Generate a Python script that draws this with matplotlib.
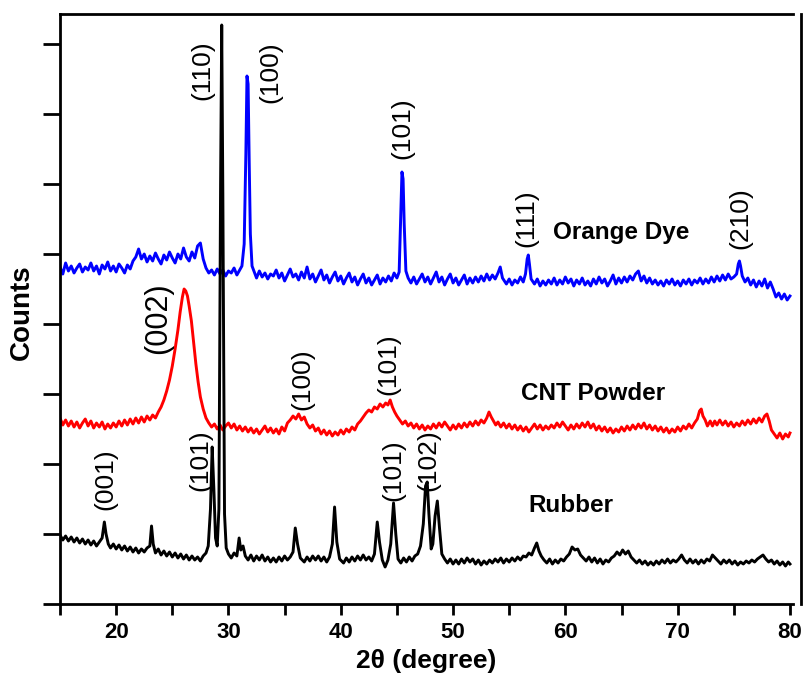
import numpy as np
import matplotlib
matplotlib.use("Agg")
import matplotlib.pyplot as plt

plt.rcParams['font.family'] = ['Liberation Sans', 'DejaVu Sans']

# XRD traces: (2theta, counts), arbitrary count units
dye_points = [
    (15.0, 337), (15.25, 330), (15.5, 341), (15.75, 333), (16.0, 338), (16.25, 331), (16.5, 336), (16.75, 340),
    (17.0, 332), (17.25, 337), (17.5, 334), (17.75, 341), (18.0, 333), (18.25, 338), (18.5, 330), (18.75, 339),
    (19.0, 335), (19.25, 342), (19.5, 333), (19.75, 338), (20.0, 332), (20.25, 340), (20.5, 336), (20.75, 331),
    (21.0, 339), (21.25, 335), (21.5, 343), (21.75, 347), (22.0, 355), (22.25, 345), (22.5, 350), (22.75, 342),
    (23.0, 348), (23.25, 343), (23.5, 351), (23.75, 345), (24.0, 340), (24.25, 349), (24.5, 344), (24.75, 352),
    (25.0, 346), (25.25, 341), (25.5, 350), (25.75, 345), (26.0, 356), (26.25, 347), (26.5, 343), (26.75, 352),
    (27.0, 346), (27.25, 358), (27.5, 361), (27.75, 345), (28.0, 336), (28.25, 331), (28.5, 334), (28.75, 329),
    (29.0, 335), (29.25, 330), (29.5, 334), (29.75, 328), (30.0, 333), (30.25, 331), (30.5, 336), (30.75, 329),
    (31.0, 334), (31.2, 338), (31.4, 360), (31.55, 450), (31.65, 528), (31.75, 520), (31.85, 440), (31.95, 370),
    (32.1, 338), (32.3, 332), (32.5, 326), (32.75, 333), (33.0, 327), (33.25, 331), (33.5, 325), (33.75, 330),
    (34.0, 328), (34.25, 334), (34.5, 326), (34.75, 331), (35.0, 323), (35.25, 329), (35.5, 335), (35.75, 327),
    (36.0, 330), (36.25, 324), (36.5, 332), (36.75, 326), (37.0, 337), (37.25, 325), (37.5, 330), (37.75, 322),
    (38.0, 328), (38.25, 334), (38.5, 324), (38.75, 329), (39.0, 321), (39.25, 327), (39.5, 332), (39.75, 323),
    (40.0, 328), (40.25, 320), (40.5, 326), (40.75, 331), (41.0, 322), (41.25, 327), (41.5, 319), (41.75, 325),
    (42.0, 330), (42.25, 321), (42.5, 326), (42.75, 319), (43.0, 324), (43.25, 329), (43.5, 320), (43.75, 326),
    (44.0, 322), (44.25, 328), (44.5, 323), (44.75, 331), (45.0, 326), (45.2, 332), (45.35, 390), (45.45, 432),
    (45.55, 425), (45.65, 380), (45.8, 333), (46.0, 326), (46.25, 321), (46.5, 327), (46.75, 320), (47.0, 325),
    (47.25, 330), (47.5, 322), (47.75, 327), (48.0, 320), (48.25, 326), (48.5, 332), (48.75, 322), (49.0, 327),
    (49.25, 319), (49.5, 325), (49.75, 330), (50.0, 321), (50.25, 326), (50.5, 319), (50.75, 324), (51.0, 329),
    (51.25, 320), (51.5, 326), (51.75, 321), (52.0, 327), (52.25, 322), (52.5, 328), (52.75, 323), (53.0, 330),
    (53.25, 324), (53.5, 329), (53.75, 325), (54.0, 331), (54.2, 337), (54.4, 326), (54.75, 320), (55.0, 325),
    (55.25, 319), (55.5, 324), (55.75, 321), (56.0, 327), (56.25, 322), (56.45, 330), (56.6, 345), (56.7, 349),
    (56.8, 340), (56.95, 325), (57.25, 320), (57.5, 325), (57.75, 318), (58.0, 323), (58.25, 319), (58.5, 324),
    (58.75, 320), (59.0, 326), (59.25, 319), (59.5, 324), (59.75, 320), (60.0, 327), (60.25, 321), (60.5, 325),
    (60.75, 318), (61.0, 324), (61.25, 320), (61.5, 326), (61.75, 319), (62.0, 323), (62.25, 318), (62.5, 325),
    (62.75, 320), (63.0, 327), (63.25, 321), (63.5, 325), (63.75, 318), (64.0, 323), (64.25, 329), (64.5, 320),
    (64.75, 326), (65.0, 321), (65.25, 327), (65.5, 322), (65.75, 328), (66.0, 324), (66.25, 330), (66.5, 333),
    (66.75, 323), (67.0, 328), (67.25, 321), (67.5, 326), (67.75, 320), (68.0, 324), (68.25, 319), (68.5, 323),
    (68.75, 318), (69.0, 324), (69.25, 320), (69.5, 325), (69.75, 319), (70.0, 323), (70.25, 318), (70.5, 324),
    (70.75, 320), (71.0, 325), (71.25, 319), (71.5, 324), (71.75, 321), (72.0, 326), (72.25, 320), (72.5, 325),
    (72.75, 321), (73.0, 327), (73.25, 322), (73.5, 328), (73.75, 323), (74.0, 329), (74.25, 324), (74.5, 330),
    (74.75, 325), (75.0, 327), (75.25, 330), (75.4, 340), (75.5, 343), (75.6, 338), (75.75, 328), (76.0, 322),
    (76.25, 326), (76.5, 319), (76.75, 324), (77.0, 317), (77.25, 323), (77.5, 318), (77.75, 325), (78.0, 316),
    (78.25, 322), (78.5, 315), (78.75, 307), (79.0, 311), (79.25, 305), (79.5, 310), (79.75, 304), (80.0, 308),
]

cnt_points = [
    (15.0, 186), (15.25, 179), (15.5, 184), (15.75, 178), (16.0, 183), (16.25, 177), (16.5, 182), (16.75, 176),
    (17.0, 181), (17.25, 185), (17.5, 178), (17.75, 183), (18.0, 176), (18.25, 181), (18.5, 177), (18.75, 182),
    (19.0, 175), (19.25, 180), (19.5, 176), (19.75, 181), (20.0, 177), (20.25, 183), (20.5, 178), (20.75, 184),
    (21.0, 179), (21.25, 185), (21.5, 180), (21.75, 186), (22.0, 181), (22.25, 187), (22.5, 182), (22.75, 188),
    (23.0, 184), (23.25, 189), (23.5, 186), (23.75, 192), (24.0, 197), (24.25, 204), (24.5, 213), (24.75, 224),
    (25.0, 238), (25.25, 255), (25.5, 274), (25.7, 292), (25.9, 307), (26.05, 315), (26.2, 313), (26.35, 308),
    (26.5, 298), (26.7, 283), (26.9, 262), (27.1, 240), (27.3, 222), (27.5, 207), (27.75, 195), (28.0, 186),
    (28.25, 181), (28.5, 177), (28.75, 180), (29.0, 175), (29.25, 179), (29.5, 174), (29.75, 178), (30.0, 181),
    (30.25, 176), (30.5, 180), (30.75, 174), (31.0, 178), (31.25, 173), (31.5, 177), (31.75, 172), (32.0, 176),
    (32.25, 171), (32.5, 175), (32.75, 170), (33.0, 174), (33.25, 178), (33.5, 172), (33.75, 176), (34.0, 171),
    (34.25, 175), (34.5, 170), (34.75, 177), (35.0, 173), (35.25, 181), (35.5, 184), (35.75, 188), (36.0, 185),
    (36.25, 190), (36.5, 184), (36.75, 187), (37.0, 180), (37.25, 176), (37.5, 179), (37.75, 173), (38.0, 176),
    (38.25, 170), (38.5, 174), (38.75, 169), (39.0, 173), (39.25, 168), (39.5, 172), (39.75, 169), (40.0, 174),
    (40.25, 170), (40.5, 175), (40.75, 172), (41.0, 177), (41.25, 174), (41.5, 180), (41.75, 183), (42.0, 187),
    (42.25, 191), (42.5, 194), (42.75, 192), (43.0, 197), (43.25, 195), (43.5, 200), (43.75, 197), (44.0, 201),
    (44.2, 199), (44.4, 204), (44.6, 197), (44.8, 192), (45.0, 188), (45.25, 184), (45.5, 180), (45.75, 183),
    (46.0, 178), (46.25, 181), (46.5, 176), (46.75, 180), (47.0, 175), (47.25, 179), (47.5, 174), (47.75, 178),
    (48.0, 175), (48.25, 180), (48.5, 176), (48.75, 181), (49.0, 177), (49.25, 182), (49.5, 178), (49.75, 174),
    (50.0, 179), (50.25, 175), (50.5, 180), (50.75, 176), (51.0, 181), (51.25, 177), (51.5, 182), (51.75, 178),
    (52.0, 183), (52.25, 179), (52.5, 184), (52.75, 181), (53.0, 186), (53.2, 192), (53.4, 187), (53.6, 183),
    (53.8, 179), (54.0, 182), (54.25, 177), (54.5, 181), (54.75, 176), (55.0, 180), (55.25, 175), (55.5, 179),
    (55.75, 174), (56.0, 178), (56.25, 173), (56.5, 177), (56.75, 172), (57.0, 176), (57.25, 180), (57.5, 175),
    (57.75, 179), (58.0, 174), (58.25, 178), (58.5, 175), (58.75, 179), (59.0, 176), (59.25, 181), (59.5, 177),
    (59.75, 182), (60.0, 178), (60.25, 174), (60.5, 179), (60.75, 175), (61.0, 180), (61.25, 176), (61.5, 181),
    (61.75, 177), (62.0, 182), (62.25, 176), (62.5, 180), (62.75, 174), (63.0, 178), (63.25, 173), (63.5, 177),
    (63.75, 172), (64.0, 176), (64.25, 171), (64.5, 175), (64.75, 172), (65.0, 177), (65.25, 173), (65.5, 178),
    (65.75, 174), (66.0, 179), (66.25, 175), (66.5, 180), (66.75, 176), (67.0, 181), (67.25, 175), (67.5, 179),
    (67.75, 174), (68.0, 178), (68.25, 173), (68.5, 177), (68.75, 172), (69.0, 176), (69.25, 171), (69.5, 175),
    (69.75, 172), (70.0, 177), (70.25, 173), (70.5, 178), (70.75, 175), (71.0, 180), (71.25, 176), (71.5, 181),
    (71.75, 185), (71.95, 193), (72.1, 195), (72.25, 188), (72.45, 184), (72.65, 178), (72.9, 183), (73.1, 178),
    (73.3, 183), (73.5, 179), (73.75, 184), (74.0, 179), (74.25, 183), (74.5, 178), (74.75, 182), (75.0, 177),
    (75.25, 181), (75.5, 178), (75.75, 183), (76.0, 179), (76.25, 184), (76.5, 180), (76.75, 185), (77.0, 181),
    (77.25, 186), (77.5, 182), (77.75, 188), (77.95, 190), (78.15, 183), (78.35, 174), (78.6, 170), (78.85, 166),
    (79.1, 171), (79.35, 165), (79.6, 170), (79.85, 167), (80.0, 171),
]

rubber_points = [
    (15.0, 69), (15.25, 64), (15.5, 68), (15.75, 63), (16.0, 67), (16.25, 62), (16.5, 66), (16.75, 61),
    (17.0, 65), (17.25, 60), (17.5, 64), (17.75, 59), (18.0, 63), (18.25, 58), (18.5, 62), (18.75, 66),
    (18.95, 82), (19.1, 70), (19.3, 60), (19.5, 56), (19.75, 60), (20.0, 55), (20.25, 59), (20.5, 54),
    (20.75, 58), (21.0, 53), (21.25, 57), (21.5, 52), (21.75, 56), (22.0, 51), (22.25, 55), (22.5, 52),
    (22.75, 56), (23.0, 58), (23.15, 78), (23.3, 60), (23.5, 51), (23.75, 55), (24.0, 49), (24.25, 53),
    (24.5, 48), (24.75, 52), (25.0, 47), (25.25, 51), (25.5, 46), (25.75, 50), (26.0, 45), (26.25, 49),
    (26.5, 44), (26.75, 48), (27.0, 44), (27.25, 47), (27.5, 43), (27.75, 48), (28.0, 51), (28.2, 58),
    (28.4, 95), (28.55, 157), (28.7, 115), (28.85, 66), (29.0, 58), (29.15, 95), (29.3, 420), (29.4, 579),
    (29.5, 410), (29.65, 90), (29.8, 56), (30.0, 50), (30.25, 46), (30.5, 51), (30.75, 48), (30.95, 66),
    (31.1, 54), (31.3, 58), (31.5, 48), (31.75, 44), (32.0, 49), (32.25, 43), (32.5, 48), (32.75, 44),
    (33.0, 49), (33.25, 43), (33.5, 47), (33.75, 42), (34.0, 46), (34.25, 42), (34.5, 47), (34.75, 43),
    (35.0, 48), (35.25, 44), (35.5, 47), (35.75, 52), (35.95, 76), (36.15, 60), (36.4, 46), (36.75, 42),
    (37.0, 47), (37.25, 43), (37.5, 48), (37.75, 44), (38.0, 48), (38.25, 43), (38.5, 47), (38.75, 42),
    (39.0, 47), (39.25, 60), (39.45, 97), (39.65, 62), (39.9, 45), (40.25, 41), (40.5, 46), (40.75, 42),
    (41.0, 47), (41.25, 43), (41.5, 48), (41.75, 44), (42.0, 49), (42.25, 44), (42.5, 47), (42.75, 43),
    (43.0, 50), (43.25, 82), (43.45, 62), (43.7, 44), (43.95, 37), (44.2, 44), (44.45, 60), (44.7, 101),
    (44.9, 70), (45.1, 45), (45.35, 41), (45.6, 46), (45.85, 42), (46.1, 47), (46.35, 43), (46.6, 48),
    (46.85, 50), (47.1, 58), (47.35, 80), (47.55, 118), (47.7, 122), (47.85, 90), (48.05, 55), (48.2, 60),
    (48.4, 88), (48.6, 103), (48.8, 75), (49.0, 50), (49.25, 45), (49.5, 41), (49.75, 45), (50.0, 40),
    (50.25, 44), (50.5, 40), (50.75, 45), (51.0, 41), (51.25, 46), (51.5, 42), (51.75, 45), (52.0, 40),
    (52.25, 44), (52.5, 39), (52.75, 43), (53.0, 40), (53.25, 44), (53.5, 41), (53.75, 45), (54.0, 42),
    (54.25, 46), (54.5, 41), (54.75, 45), (55.0, 42), (55.25, 46), (55.5, 43), (55.75, 47), (56.0, 44),
    (56.25, 48), (56.5, 47), (56.75, 51), (57.0, 49), (57.25, 56), (57.45, 61), (57.65, 53), (57.85, 48),
    (58.1, 44), (58.35, 41), (58.6, 45), (58.85, 40), (59.1, 44), (59.35, 41), (59.6, 45), (59.85, 43),
    (60.1, 47), (60.35, 50), (60.6, 57), (60.85, 54), (61.1, 55), (61.35, 49), (61.6, 46), (61.85, 43),
    (62.1, 47), (62.35, 42), (62.6, 46), (62.85, 41), (63.1, 45), (63.35, 40), (63.6, 44), (63.85, 42),
    (64.1, 46), (64.35, 48), (64.6, 52), (64.85, 49), (65.1, 54), (65.35, 50), (65.6, 53), (65.85, 47),
    (66.1, 44), (66.35, 41), (66.6, 44), (66.85, 40), (67.1, 43), (67.35, 39), (67.6, 42), (67.85, 39),
    (68.1, 43), (68.35, 40), (68.6, 44), (68.85, 41), (69.1, 45), (69.35, 41), (69.6, 44), (69.85, 42),
    (70.1, 45), (70.35, 49), (70.6, 44), (70.85, 41), (71.1, 45), (71.35, 41), (71.6, 44), (71.85, 40),
    (72.1, 44), (72.35, 41), (72.6, 45), (72.85, 43), (73.1, 49), (73.35, 46), (73.6, 43), (73.85, 40),
    (74.1, 44), (74.35, 41), (74.6, 44), (74.85, 40), (75.1, 43), (75.35, 39), (75.6, 42), (75.85, 40),
    (76.1, 43), (76.35, 41), (76.6, 44), (76.85, 42), (77.1, 45), (77.35, 47), (77.6, 49), (77.85, 45),
    (78.1, 42), (78.35, 44), (78.6, 40), (78.85, 43), (79.1, 39), (79.35, 42), (79.6, 38), (79.85, 42),
    (80.0, 40),
]

x_major = [20, 30, 40, 50, 60, 70, 80]
x_minor = [15, 25, 35, 45, 55, 65, 75]
y_ticks = [0, 70, 140, 210, 280, 350, 420, 490, 560]

# (text, 2theta, counts, fontsize)
peak_labels = [
    ("(110)", 27.65, 534, 19), ("(100)", 33.7, 532, 19), ("(101)", 45.5, 476, 19),
    ("(111)", 56.5, 386, 19), ("(210)", 75.55, 386, 19),
    ("(002)", 23.7, 286, 22), ("(100)", 36.55, 225, 19), ("(101)", 44.2, 240, 19),
    ("(001)", 19.0, 125, 19), ("(101)", 27.5, 144, 19), ("(101)", 44.65, 134, 19),
    ("(102)", 47.8, 144, 19),
]
sample_labels = [("Orange Dye", 65.0, 371), ("CNT Powder", 62.5, 211), ("Rubber", 60.5, 98)]

fig = plt.figure(figsize=(8.04, 6.74), dpi=100)
ax = fig.add_axes([60 / 804, 70 / 674, 733 / 804, 590 / 674])

for pts, col in [(dye_points, '#0000ff'), (cnt_points, '#ff0000'), (rubber_points, 'black')]:
    xs, ys = zip(*pts)
    ax.plot(xs, ys, color=col, lw=2.1)

for txt, x, y, fs in peak_labels:
    ax.text(x, y, txt, rotation=90, ha='center', va='center', fontsize=fs)
for txt, x, y in sample_labels:
    ax.text(x, y, txt, ha='center', va='center', fontsize=17.5, fontweight='bold')

ax.set_xlim(15, 80.27)
ax.set_ylim(0, 590)
ax.set_xticks(x_major)
ax.set_xticks(x_minor, minor=True)
ax.set_yticks(y_ticks)
ax.set_yticklabels([])
ax.tick_params(axis='x', which='both', direction='out', length=8, width=2, labelsize=16, pad=5)
ax.tick_params(axis='y', direction='out', length=12, width=2)
for lab in ax.get_xticklabels():
    lab.set_fontweight('bold')

for side in ['left', 'right', 'top', 'bottom']:
    ax.spines[side].set_linewidth(2)
ax.spines['right'].set_position(('outward', 6))

ax.set_xlabel('2θ (degree)', fontsize=19, fontweight='bold', labelpad=4)
fig.text(22 / 804, 1 - 312 / 674, 'Counts', rotation=90, ha='center', va='center',
         fontsize=20, fontweight='bold')

fig.savefig('out.png', dpi=100)
